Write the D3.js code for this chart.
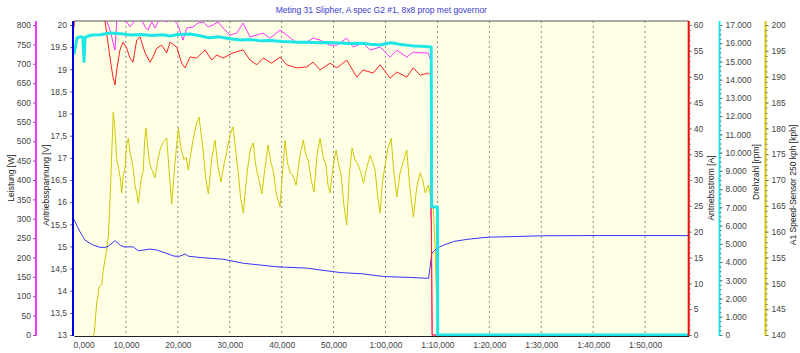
<!DOCTYPE html>
<html>
<head>
<meta charset="utf-8">
<script src="https://cdn.jsdelivr.net/npm/d3@7"></script>
<style>
body { margin: 0; background: #fff; }
svg { display: block; font-family: "Liberation Sans", Arial, sans-serif; }
.tick text { fill: #444; font-size: 8.5px; }
</style>
</head>
<body>
<script>
// time in seconds, values per channel
var timeTicks = [0, 10, 20, 30, 40, 50, 60, 70, 80, 90, 100, 110];

var rpmData = [[0,15400],[0.6,16300],[1.2,16350],[1.7,16330],[1.93,15000],[2.12,16300],[2.6,16380],[3.5,16450],[5,16470],[7,16560],[9,16520],[11,16450],[13,16480],[15,16420],[17,16460],[18.5,16400],[20,16480],[22.4,16510],[24,16420],[26,16300],[28,16350],[30,16250],[32,16180],[34,16200],[36,16130],[38,16150],[40,16100],[41.6,16080],[43,16060],[45,16050],[47,16020],[49,16040],[51.2,16010],[53,15980],[55.7,16000],[57,15950],[59,15900],[61,16030],[63,15930],[65.5,15850],[67,15830],[68.8,15790],[68.9,7020],[70.0,7020],[70.05,0],[118.4,0]];

var wattData = [[0,900],[5.9,900],[6.3,810],[6.94,787],[7.9,735],[8.23,810],[8.48,830],[9.63,830],[10.15,808],[10.79,795],[11.37,805],[12.5,830],[13.68,795],[14.26,787],[14.97,808],[15.61,792],[16.57,818],[17.86,808],[18.88,818],[20.04,800],[21.0,761],[21.71,792],[22.93,795],[23.89,805],[24.86,808],[25.82,795],[26.78,800],[27.75,808],[28.71,792],[30.06,774],[31.35,779],[32.56,805],[33.91,769],[35.2,774],[36.42,779],[37.76,766],[39.69,787],[40.98,774],[42.91,754],[44.84,756],[46.05,766],[47.4,761],[49.33,748],[50.62,748],[52.54,766],[53.76,743],[55.68,754],[57.03,735],[58.96,743],[60.89,717],[62.18,735],[64.1,717],[65.32,730],[66.67,728],[68.21,728],[68.69,710],[68.82,348],[68.98,0],[118.4,0]];

var ampData = [[0,59.5],[0.3,65],[5.9,65],[5.97,60.8],[6.55,56.5],[7.13,52.3],[7.51,49.9],[7.9,48.4],[8.23,51.3],[8.86,55.2],[9.44,56.7],[10.15,55.5],[10.79,53.6],[11.37,52.8],[12.08,57.1],[12.72,57.7],[13.68,54.6],[14.64,52.8],[15.22,53.8],[15.93,55.5],[16.9,56.1],[17.86,54.6],[18.5,56.7],[19.79,55.7],[20.75,52.6],[21.39,51.7],[22.35,53.8],[23.64,53.6],[25.24,55.2],[26.53,53.2],[27.5,54.2],[28.71,53.6],[30.64,54.6],[32.56,55.2],[33.91,53.2],[35.2,52.3],[36.42,53.6],[38.09,52.6],[39.69,53.8],[40.98,52.3],[42.91,51.7],[44.84,51.9],[46.05,52.8],[47.4,51.3],[49.33,52.6],[50.62,51.7],[52.54,53.2],[54.47,49.9],[55.68,51.3],[57.61,50.7],[58.96,52.3],[60.89,49.7],[62.18,50.9],[64.1,49.9],[65.32,51.7],[66.67,50.3],[68.27,50.7],[68.69,50.3],[68.73,23.2],[68.82,21.9],[68.98,0],[118.4,0]];

var voltData = [[0,15.61],[0.52,15.48],[1.16,15.33],[2.12,15.14],[3.72,15.03],[5.0,14.98],[5.97,14.98],[6.6,15.0],[7.9,15.13],[8.86,15.03],[9.5,14.99],[11.4,14.99],[12.4,14.9],[14.6,14.94],[15.9,14.92],[17.9,14.84],[19.3,14.78],[20.4,14.78],[21.4,14.83],[22.0,14.78],[24.3,14.75],[28.8,14.71],[32.6,14.62],[39.1,14.54],[44.8,14.51],[51.3,14.41],[55.7,14.38],[59.6,14.32],[64.7,14.3],[68.3,14.28],[68.6,14.54],[68.9,14.84],[69.2,14.88],[69.9,14.96],[71.2,15.03],[73.1,15.11],[75.7,15.16],[79.8,15.21],[84.0,15.22],[89.8,15.24],[97.5,15.245],[118.4,15.245]];

var kphData = [[3.72,139.8],[3.91,140.4],[4.37,146.2],[4.6,147.5],[4.82,149.3],[5.34,149.7],[5.65,152.6],[6.3,156.5],[6.61,159.0],[6.94,166.1],[7.3,176],[7.57,183.2],[7.9,179.7],[8.23,173.9],[8.54,172.5],[8.9,170.5],[9.19,167.5],[9.5,171],[9.83,172.3],[10.1,176.5],[10.46,178.1],[10.8,175.2],[11.12,173.9],[11.4,172.2],[11.75,169.0],[12.1,167.4],[12.39,165.5],[12.9,169.8],[13.35,171.9],[13.6,177.5],[13.87,180.1],[14.2,176.3],[14.64,172.9],[15.1,171.8],[15.61,170.4],[16.1,173.6],[16.57,175.8],[17.2,177.4],[17.86,178.1],[18.3,172.0],[18.82,165.4],[19.4,172.8],[20.1,180.1],[20.6,176.2],[21.19,173.9],[21.6,174.4],[22.02,171.9],[22.5,175.1],[22.93,177.7],[23.5,180.6],[24.08,182.2],[24.5,178.8],[24.86,175.8],[25.4,170.2],[25.88,167.3],[26.5,173.9],[27.17,177.7],[27.7,172.8],[28.32,169.6],[28.9,173.1],[29.48,175.8],[30.1,178.9],[30.64,180.3],[31.1,176.0],[31.6,171.9],[32.1,166.5],[32.62,163.6],[33.1,169.0],[33.53,172.9],[34.0,176.1],[34.55,177.2],[34.9,173.6],[35.26,171.5],[35.7,169.7],[36.17,167.3],[36.8,172.4],[37.38,176.8],[37.9,173.5],[38.34,171.9],[39.0,167.2],[39.69,164.8],[40.2,172.0],[40.66,177.7],[41.1,173.4],[41.62,171.5],[42.2,170.8],[42.77,169.0],[43.5,174.6],[44.18,177.7],[44.6,175.0],[45.09,173.9],[45.7,169.9],[46.24,167.7],[46.8,174.8],[47.4,178.1],[48.0,174.4],[48.55,172.9],[48.9,169.1],[49.33,167.5],[49.9,172.6],[50.48,175.8],[51.0,172.9],[51.45,171.0],[52.0,165.0],[52.54,161.3],[53.0,170.7],[53.56,176.2],[54.1,174.0],[54.72,172.9],[55.2,171.6],[55.74,169.4],[56.4,172.4],[57.03,174.8],[57.5,173.6],[57.99,171.9],[58.5,166.8],[58.96,163.6],[59.4,169.5],[59.92,172.9],[60.5,176.2],[61.08,178.1],[61.6,171.7],[62.18,166.7],[62.81,171.4],[63.5,173.8],[64.1,175.8],[64.7,168.4],[65.38,162.8],[66.0,168.5],[66.67,171.4],[67.2,169.9],[67.63,167.5],[68.27,169.0],[68.73,166.7],[69.23,164.2],[69.56,156.5],[70.0,141.0],[70.13,139.0]];

var W = 800, H = 353;
var plot = { left: 74, right: 688.7, top: 21, bottom: 336 };

var svg = d3.select("body").append("svg").attr("width", W).attr("height", H);

var x = d3.scaleLinear().domain([0, 118.4]).range([plot.left, plot.right]);
var yW = d3.scaleLinear().domain([0, 800]).range([335, 25]);
var yV = d3.scaleLinear().domain([13, 20]).range([335, 25]);
var yA = d3.scaleLinear().domain([0, 60]).range([335, 25]);
var yR = d3.scaleLinear().domain([0, 17000]).range([335, 25]);
var yK = d3.scaleLinear().domain([140, 200]).range([335, 25]);

var de = d3.formatLocale({ decimal: ",", thousands: ".", grouping: [3], currency: ["", ""] });
var fmtRpm = de.format(",d");
var fmtV = function(v) { return String(v).replace(".", ","); };
var fmtTime = function(s) {
    var m = Math.floor(s / 60), r = s - m * 60;
    if (m > 0) return m + ":" + String(r).padStart(2, "0") + ",000";
    return r + ",000";
};

// plot background
svg.append("rect")
    .attr("x", plot.left).attr("y", plot.top)
    .attr("width", plot.right - plot.left).attr("height", plot.bottom - plot.top)
    .attr("fill", "#ffffe6");

svg.append("clipPath").attr("id", "clip").append("rect")
    .attr("x", plot.left).attr("y", plot.top)
    .attr("width", plot.right - plot.left).attr("height", plot.bottom - plot.top + 2);

// dashed grid
timeTicks.slice(1).forEach(function(t) {
    svg.append("line")
        .attr("x1", x(t)).attr("x2", x(t))
        .attr("y1", plot.top).attr("y2", plot.bottom)
        .attr("stroke", "#888").attr("stroke-dasharray", "2,3");
});

svg.append("line")
    .attr("x1", plot.left).attr("x2", plot.right)
    .attr("y1", plot.top).attr("y2", plot.top)
    .attr("stroke", "#555");

// series
var lines = svg.append("g").attr("clip-path", "url(#clip)");
function drawSeries(data, yScale, color, width) {
    var line = d3.line().x(function(d) { return x(d[0]); }).y(function(d) { return yScale(d[1]); });
    lines.append("path").datum(data)
        .attr("d", line)
        .attr("fill", "none")
        .attr("stroke", color)
        .attr("stroke-width", width)
        .attr("stroke-linejoin", "round");
}
drawSeries(kphData, yK, "#cfc800", 1);
drawSeries(voltData, yV, "#3535ff", 1);
drawSeries(wattData, yW, "#ff33ff", 1);
drawSeries(ampData, yA, "#ff2020", 1);
drawSeries(rpmData, yR, "#1fe6e6", 3);

// vertical axes
function drawAxis(axisGen, xPos, color, minor) {
    var g = svg.append("g").attr("transform", "translate(" + xPos + ",0)");
    if (minor) {
        var mg = svg.append("g").attr("transform", "translate(" + xPos + ",0)");
        mg.call(minor);
        mg.select(".domain").remove();
        mg.selectAll("line").attr("stroke", "#777");
    }
    g.call(axisGen);
    g.select(".domain").remove();
    g.selectAll(".tick line").attr("stroke", "#666");
    g.append("line")
        .attr("x1", 0).attr("x2", 0)
        .attr("y1", plot.top).attr("y2", plot.bottom)
        .attr("stroke", color).attr("stroke-width", 2);
    return g;
}

drawAxis(d3.axisLeft(yW).tickValues(d3.range(0, 801, 50)).tickSize(3).tickPadding(2), 36, "#ff33ff");
drawAxis(d3.axisLeft(yV).tickValues(d3.range(13, 20.01, 0.5)).tickFormat(fmtV).tickSize(3).tickPadding(3), 73, "#0000dd");
drawAxis(d3.axisRight(yA).tickValues(d3.range(0, 61, 5)).tickSize(3).tickPadding(2), plot.right,
    "#ff0000", d3.axisRight(yA).tickValues(d3.range(0, 61, 1)).tickSize(2).tickFormat(""));
drawAxis(d3.axisRight(yR).tickValues(d3.range(0, 17001, 1000)).tickFormat(fmtRpm).tickSize(3).tickPadding(3), 719.5,
    "#22e8e8", d3.axisRight(yR).tickValues(d3.range(0, 17001, 250)).tickSize(2).tickFormat(""));
drawAxis(d3.axisRight(yK).tickValues(d3.range(140, 201, 5)).tickSize(3).tickPadding(3), 765.5,
    "#d4cc00", d3.axisRight(yK).tickValues(d3.range(140, 201, 1)).tickSize(2).tickFormat(""));

// bottom axis
var gx = svg.append("g").attr("transform", "translate(0," + plot.bottom + ")")
    .call(d3.axisBottom(x).tickValues(timeTicks).tickFormat(fmtTime).tickSize(0).tickPadding(6));
gx.select(".domain").attr("stroke", "#222");
gx.selectAll(".tick").filter(function(d) { return d === 0; }).select("text")
    .attr("text-anchor", "start").attr("x", -1);

// titles
svg.append("text")
    .attr("x", (plot.left + plot.right) / 2).attr("y", 13)
    .attr("text-anchor", "middle")
    .attr("font-size", "8.5px").attr("fill", "#3a3acc")
    .text("Meting 31 Slipher, A spec G2 #1, 8x8 prop met governor");

var axisTitles = [
    { text: "Leistung [W]", x: 11, y: 178 },
    { text: "Antriebsspannung [V]", x: 46, y: 185 },
    { text: "Antriebsstrom [A]", x: 711, y: 188 },
    { text: "Drehzahl [rpm]", x: 756, y: 172 },
    { text: "A1 Speed-Sensor 250 kph [kph]", x: 793, y: 185 }
];
axisTitles.forEach(function(a) {
    svg.append("text")
        .attr("transform", "translate(" + a.x + "," + a.y + ") rotate(-90)")
        .attr("text-anchor", "middle")
        .attr("dominant-baseline", "central")
        .attr("font-size", "8.5px").attr("fill", "#222")
        .text(a.text);
});
</script>
</body>
</html>
